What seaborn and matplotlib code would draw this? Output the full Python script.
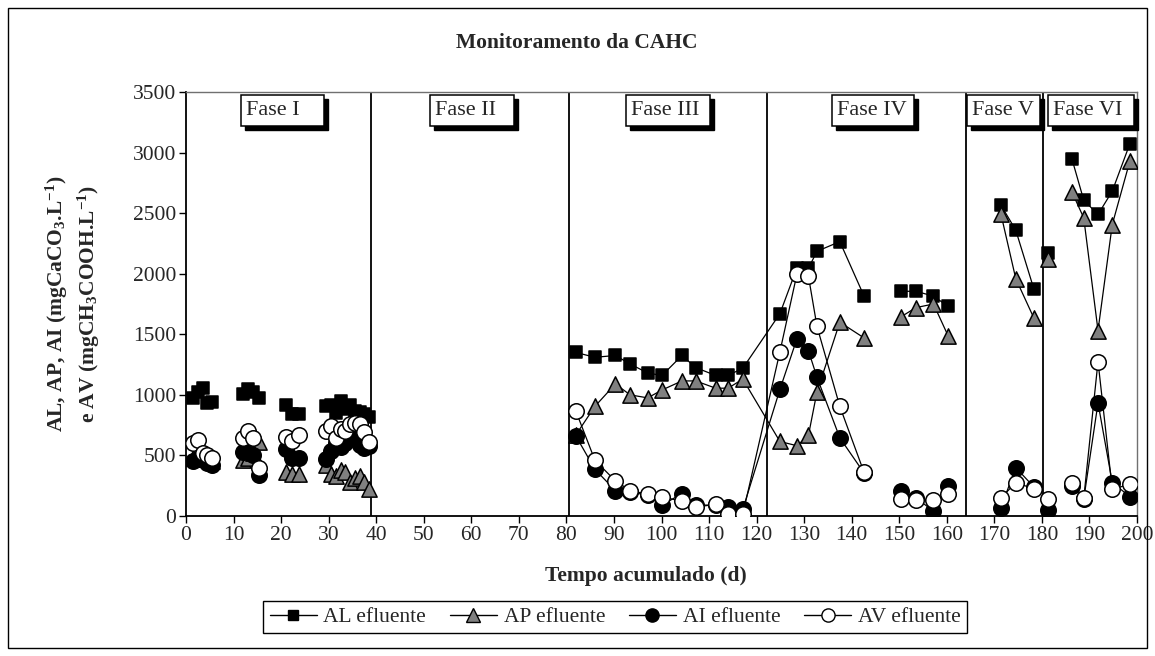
import matplotlib
matplotlib.use("Agg")
import matplotlib.pyplot as plt
import matplotlib.transforms as mtransforms
from matplotlib.patches import Rectangle
from matplotlib.lines import Line2D
import pandas as pd
import seaborn as sns

# ---------------- data ----------------
# Fase I (markers only, no connecting lines)
dias_fase1 = [1.5, 2.5, 3.5, 4.5, 5.5, 12, 13, 14, 15.3, 21, 22.3, 23.7,
              29.5, 30.5, 31.5, 32.5, 33.5, 34.5, 35.5, 36.5, 37.5, 38.5]
al_fase1 = [970, 1020, 1060, 930, 940, 1010, 1050, 1020, 970, 920, 840, 840,
            910, 920, 850, 950, 880, 920, 870, 860, 840, 820]
ap_fase1 = [480, 500, 520, 470, 450, 460, 480, 520, 610, 360, 350, 350,
            420, 350, 330, 380, 360, 280, 310, 330, 280, 220]
ai_fase1 = [450, 470, 480, 440, 420, 530, 540, 500, 340, 550, 480, 480,
            470, 540, 600, 570, 600, 640, 650, 590, 560, 580]
av_fase1 = [600, 630, 520, 500, 480, 640, 700, 640, 400, 650, 620, 670,
            700, 740, 640, 720, 700, 760, 770, 760, 690, 610]

# Fase III + first part of Fase IV (connected)
dias_fase3_4a = [82.0, 86.0, 90.3, 93.4, 97.1, 100.1, 104.3, 107.2, 111.4, 114.0, 117.1,
                 124.9, 128.5, 130.9, 132.7, 137.5, 142.6]
al_fase3_4a = [1350, 1310, 1325, 1255, 1180, 1160, 1325, 1225, 1160, 1160, 1220,
               1670, 2050, 2045, 2185, 2265, 1815]
ap_fase3_4a = [670, 905, 1090, 1000, 975, 1040, 1115, 1115, 1055, 1055, 1130,
               615, 580, 665, 1025, 1600, 1470]
ai_fase3_4a = [660, 385, 210, 200, 170, 90, 185, 90, 90, 75, 55,
               1045, 1465, 1365, 1145, 645, 355]
av_fase3_4a = [865, 460, 290, 210, 180, 160, 120, 75, 95, 15, 15,
               1355, 2000, 1980, 1565, 905, 360]

# second part of Fase IV
dias_fase4b = [150.4, 153.5, 157.2, 160.3]
al_fase4b = [1855, 1855, 1815, 1730]
ap_fase4b = [1645, 1720, 1750, 1485]
ai_fase4b = [210, 150, 40, 250]
av_fase4b = [140, 130, 135, 185]

# Fase V
dias_fase5 = [171.4, 174.5, 178.3]
al_fase5 = [2565, 2360, 1875]
ap_fase5 = [2490, 1960, 1635]
ai_fase5 = [70, 400, 240]
av_fase5 = [150, 275, 225]

# isolated point at start of Fase VI
dias_fase6a = [181.3]
al_fase6a = [2174]
ap_fase6a = [2124]
ai_fase6a = [50]
av_fase6a = [143]

# Fase VI
dias_fase6b = [186.3, 188.8, 191.8, 194.8, 198.5]
al_fase6b = [2950, 2607, 2489, 2682, 3073]
ap_fase6b = [2676, 2461, 1531, 2406, 2930]
ai_fase6b = [250, 140, 933, 276, 160]
av_fase6b = [276, 146, 1275, 221, 262]

series = ["AL efluente", "AP efluente", "AI efluente", "AV efluente"]
fase_nomes = ["Fase I", "Fase II", "Fase III", "Fase IV", "Fase V", "Fase VI"]
fase_limites = [39.0, 80.5, 122.2, 164.0, 180.3]
fase_caixas = [(11.6, 29.0), (51.4, 68.9), (92.6, 110.2), (135.9, 153.2), (164.3, 179.7), (181.2, 199.4)]

segmentos = [
    (dias_fase1, [al_fase1, ap_fase1, ai_fase1, av_fase1], False),
    (dias_fase3_4a, [al_fase3_4a, ap_fase3_4a, ai_fase3_4a, av_fase3_4a], True),
    (dias_fase4b, [al_fase4b, ap_fase4b, ai_fase4b, av_fase4b], True),
    (dias_fase5, [al_fase5, ap_fase5, ai_fase5, av_fase5], True),
    (dias_fase6a, [al_fase6a, ap_fase6a, ai_fase6a, av_fase6a], False),
    (dias_fase6b, [al_fase6b, ap_fase6b, ai_fase6b, av_fase6b], True),
]

rows = []
for seg_id, (dias, vals, linha) in enumerate(segmentos):
    for s_name, v in zip(series, vals):
        for d, y in zip(dias, v):
            rows.append(dict(dia=d, valor=y, serie=s_name, seg=seg_id, linha=linha))
df = pd.DataFrame(rows)

# ---------------- style ----------------
sns.set_theme(style="white")
plt.rcParams["font.family"] = ["Liberation Serif", "DejaVu Serif"]
plt.rcParams["mathtext.fontset"] = "custom"
plt.rcParams["mathtext.rm"] = "Liberation Serif:bold"
plt.rcParams["mathtext.it"] = "Liberation Serif:bold"
plt.rcParams["mathtext.bf"] = "Liberation Serif:bold"

W, H = 1155, 656
fig = plt.figure(figsize=(W / 100, H / 100), dpi=100)
L, R, T, B = 186, 1137, 92, 516
ax = fig.add_axes([L / W, 1 - B / H, (R - L) / W, (B - T) / H])

estilo = {
    "AL efluente": dict(marker="s", face="black", s=72),
    "AP efluente": dict(marker="^", face="#808080", s=121),
    "AI efluente": dict(marker="o", face="black", s=124),
    "AV efluente": dict(marker="o", face="white", s=124),
}

z = 3
for s_name in series:
    sub = df[df.serie == s_name]
    sub_l = sub[sub.linha]
    sns.lineplot(data=sub_l, x="dia", y="valor", units="seg", estimator=None,
                 color="black", lw=0.9, ax=ax, legend=False, zorder=z)
    st = estilo[s_name]
    sns.scatterplot(data=sub, x="dia", y="valor", marker=st["marker"], s=st["s"],
                    color=st["face"], edgecolor="black", linewidth=1.1,
                    ax=ax, legend=False, zorder=z + 0.5)
    z += 1

for xl in fase_limites:
    ax.axvline(xl, color="black", lw=1.3, zorder=2)

ax.set_xlim(0, 200)
ax.set_ylim(0, 3500)
ax.set_xticks(range(0, 201, 10))
ax.set_yticks(range(0, 3501, 500))
ax.set_xlabel("")
ax.set_ylabel("")
ax.tick_params(axis="both", which="major", direction="out", length=5, width=1,
               color="black", labelsize=15.5, pad=2, bottom=True, left=True)
for side in ["left", "bottom"]:
    ax.spines[side].set_color("black")
    ax.spines[side].set_linewidth(1.3)
for side in ["top", "right"]:
    ax.spines[side].set_color("#707070")
    ax.spines[side].set_linewidth(1.0)
ax.grid(False)

# phase label boxes with shadow
trans = mtransforms.blended_transform_factory(ax.transData, ax.transAxes)
ax_h = B - T
box_top = 1 - 3 / ax_h
box_h = 31 / ax_h
shadow_dx = 4 * 200 / (R - L)
shadow_dy = 4 / ax_h
for nome, (x0, x1) in zip(fase_nomes, fase_caixas):
    ax.add_patch(Rectangle((x0 + shadow_dx, box_top - box_h - shadow_dy), x1 - x0, box_h,
                           transform=trans, fc="black", ec="black", lw=1.0, zorder=10,
                           clip_on=False))
    ax.add_patch(Rectangle((x0, box_top - box_h), x1 - x0, box_h,
                           transform=trans, fc="white", ec="black", lw=1.1, zorder=11,
                           clip_on=False))
    ax.text(x0 + 5 * 200 / (R - L), box_top - box_h / 2, nome, transform=trans,
            ha="left", va="center", fontsize=16, zorder=12)

# titles and labels
fig.text(577 / W, 1 - 43 / H, "Monitoramento da CAHC", ha="center", va="center",
         fontsize=15.5, fontweight="bold")
fig.text(646 / W, 1 - 576 / H, "Tempo acumulado (d)", ha="center", va="center",
         fontsize=15.5, fontweight="bold")
fig.text(73 / W, 1 - 304 / H,
         "AL, AP, AI (mgCaCO$_{3}$.L$^{-1}$)\ne AV (mgCH$_{3}$COOH.L$^{-1}$)",
         ha="center", va="center", rotation=90, multialignment="center",
         fontsize=15.5, fontweight="bold", linespacing=1.3)

# legend
handles = [
    Line2D([0], [0], color="black", lw=1, marker="s", ms=7, mfc="black", mec="black"),
    Line2D([0], [0], color="black", lw=1, marker="^", ms=9.5, mfc="#808080", mec="black"),
    Line2D([0], [0], color="black", lw=1, marker="o", ms=9.5, mfc="black", mec="black"),
    Line2D([0], [0], color="black", lw=1, marker="o", ms=9.5, mfc="white", mec="black"),
]
leg = fig.legend(handles, series, loc="center", bbox_to_anchor=(615 / W, 1 - 617 / H),
                 ncol=4, frameon=True, fancybox=False, edgecolor="black", framealpha=1,
                 fontsize=15.5, handlelength=2.2, handletextpad=0.3, columnspacing=1.1,
                 borderpad=0.3)
leg.get_frame().set_linewidth(1.0)

# outer frame
fig.patches.append(Rectangle((8 / W, 8 / H), (W - 16) / W, (H - 16) / H,
                             transform=fig.transFigure, fill=False, ec="black", lw=1.0))

fig.savefig("out.png", dpi=100)
